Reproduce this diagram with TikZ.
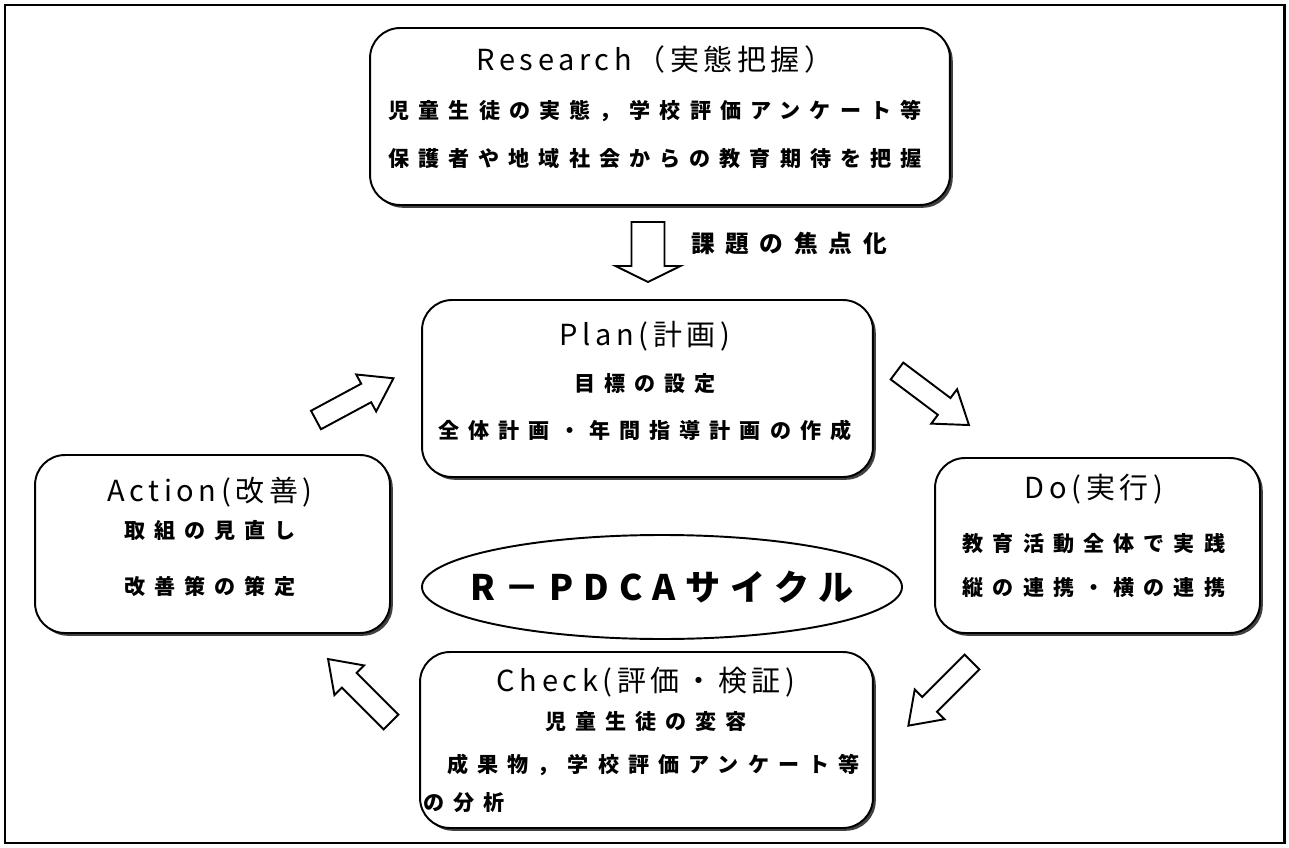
\documentclass[tikz,border=0pt]{standalone}
\usepackage{fontspec}
\newfontfamily\jpbody[LetterSpace=43]{Noto Sans CJK JP}
\newfontfamily\jpwide[LetterSpace=45]{Noto Sans CJK JP}
\newfontfamily\jptitle[LetterSpace=16]{Noto Sans CJK JP}
\newfontfamily\jpcycle[LetterSpace=28]{Noto Sans CJK JP}
\usetikzlibrary{shadows}

\newcommand\phasetitle[1]{{\jptitle\mdseries\fontsize{16.5}{20}\selectfont #1}}

\tikzset{
  pics/blockarrow/.style n args={4}{code={
    \draw[line width=1.1pt, line join=miter, fill=white]
      (0,-#2) -- (#1-#4,-#2) -- (#1-#4,-#3) -- (#1,0) -- (#1-#4,#3) -- (#1-#4,#2) -- (0,#2) -- cycle;}}
}

\begin{document}
\begin{tikzpicture}
  [x=0.02cm, y=-0.02cm,
   phase/.style={draw, line width=1.1pt, rounded corners=0.6cm, fill=white,
     drop shadow={shadow xshift=1.6pt, shadow yshift=-1.6pt, opacity=1, fill=black!75}},
   body/.style={align=center, inner sep=0pt, font=\jpbody\bfseries\fontsize{12}{27.5}\selectfont}]
  \useasboundingbox (0,0) rectangle (1289,848);
  \draw[line width=1.7pt] (5,5) rectangle (1284,843);

  % the five phases
  \node[phase, minimum width=11.6cm, minimum height=3.54cm] (research) at (660,116.5) {};
  \node[phase, minimum width=9.02cm, minimum height=3.54cm] (plan) at (647.5,388.5) {};
  \node[phase, minimum width=7.1cm, minimum height=3.56cm] (action) at (212.5,544) {};
  \node[phase, minimum width=6.5cm, minimum height=3.5cm] (do) at (1097.5,545.5) {};
  \node[phase, minimum width=9.06cm, minimum height=3.52cm] (check) at (646.5,740) {};

  \node[body] (researchtext) at (655,107)
    {\phasetitle{Research（実態把握）}\\ 児童生徒の実態，学校評価アンケート等\\ 保護者や地域社会からの教育期待を把握};
  \node[body, font=\jpbody\bfseries\fontsize{12}{26.5}\selectfont] (plantext) at (645,381)
    {\phasetitle{Plan(計画)}\\ 目標の設定\\ 全体計画・年間指導計画の作成};
  \node[body, font=\jpbody\bfseries\fontsize{12}{21}\selectfont] (actiontext) at (210,537)
    {\phasetitle{Action(改善)}\\ 取組の見直し\\[11pt] 改善策の策定};
  \node[body, font=\jpbody\bfseries\fontsize{12}{25}\selectfont] (dotext) at (1094,536)
    {\phasetitle{Do(実行)}\\[5pt] 教育活動全体で実践\\ 縦の連携・横の連携};
  \node[body, font=\jpbody\bfseries\fontsize{12}{21.5}\selectfont] (checktext) at (646,740)
    {\phasetitle{Check(評価・検証)}\\ 児童生徒の変容\\[3pt]
     \hspace*{0.3cm}成果物，学校評価アンケート等\\ \makebox[8.9cm][l]{の分析}};

  % the cycle in the middle
  \node[inner sep=0pt, font=\jpcycle\bfseries\fontsize{20}{24}\selectfont] (cycle) at (662,587) {R－PDCAサイクル};
  \draw[line width=1.1pt] (cycle.center) ellipse [x radius=240, y radius=52];

  % arrows
  \pic[rotate=-90] at (648,222) {blockarrow={60}{16.5}{32.5}{16}};
  \node[body, font=\jpwide\bfseries\fontsize{13.5}{16}\selectfont] (focus) at (789,244) {課題の焦点化};
  \pic[rotate=-36.9] at (897,371) {blockarrow={90}{10.5}{21.5}{31}};
  \pic[rotate=-135] at (972,662) {blockarrow={90}{10.5}{21}{30}};
  \pic[rotate=135] at (391,722) {blockarrow={89}{10.5}{21}{30}};
  \pic[rotate=28.3] at (316,420) {blockarrow={88}{10.5}{21}{31}};
\end{tikzpicture}
\end{document}
